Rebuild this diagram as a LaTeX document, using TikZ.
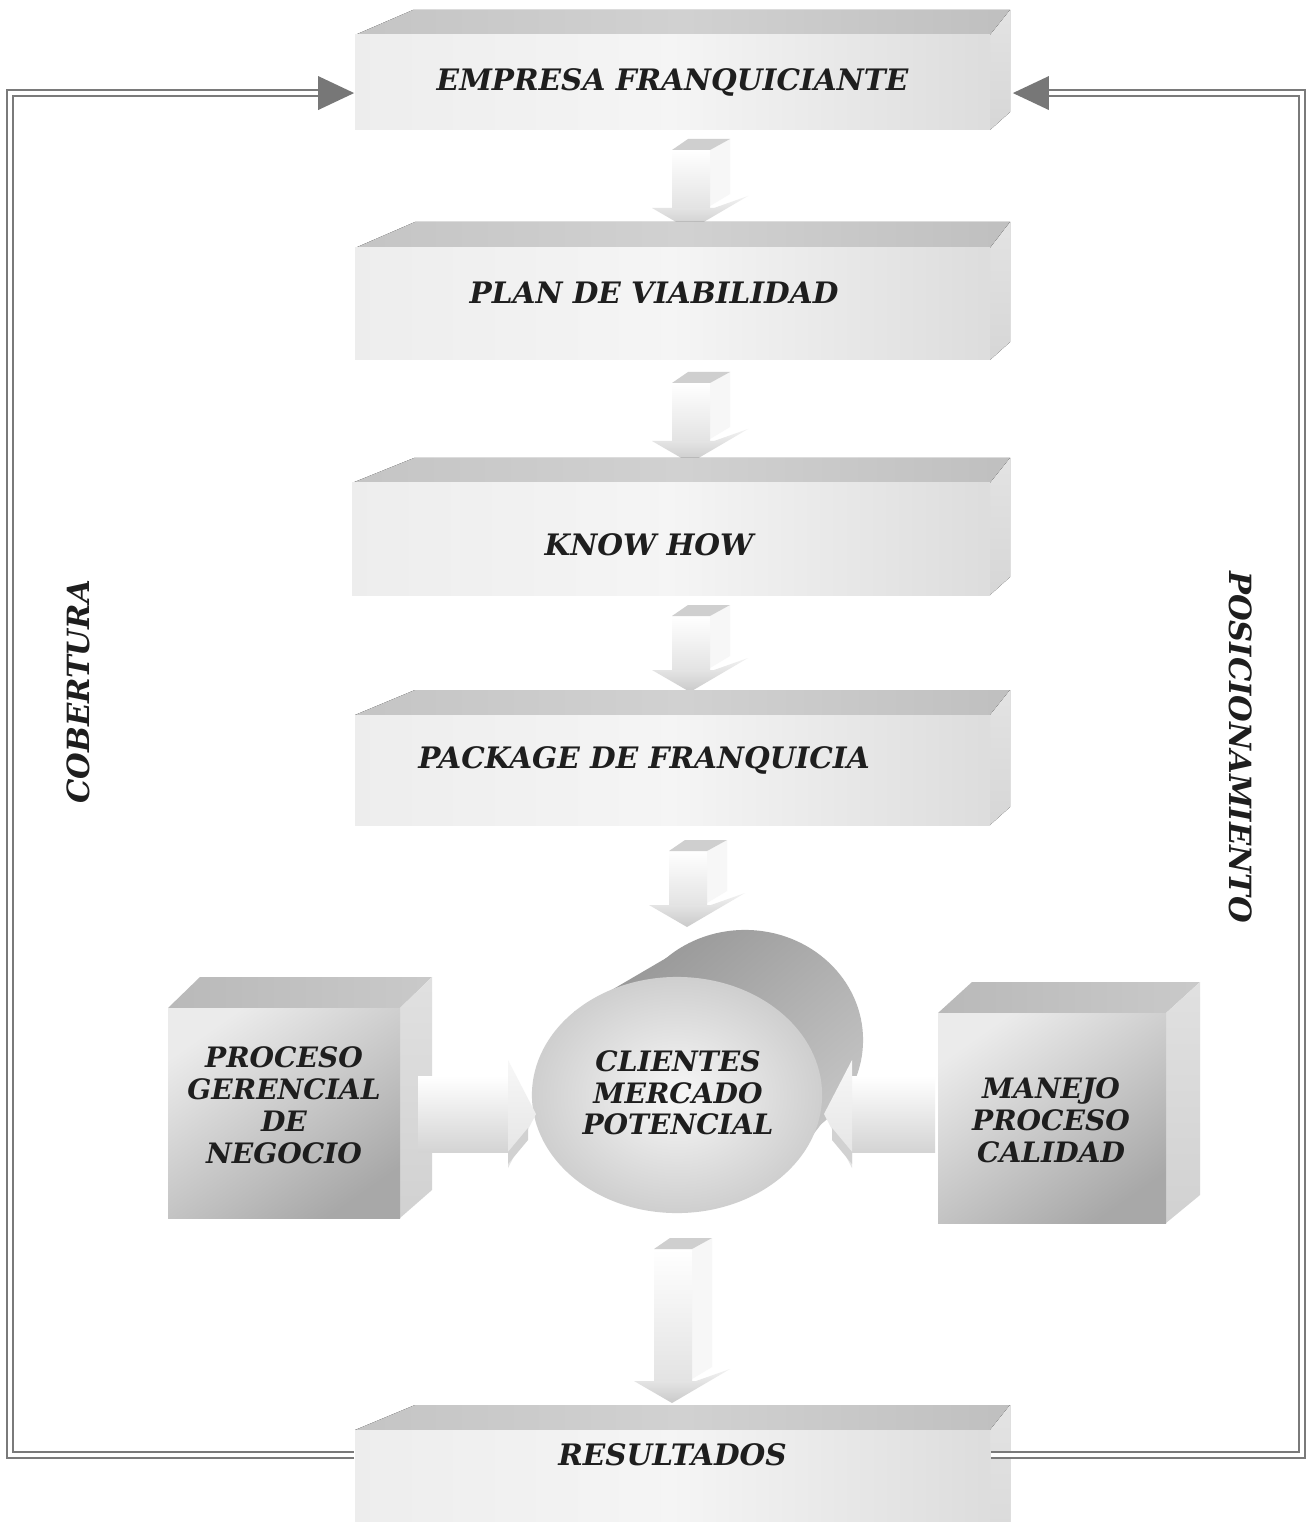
\documentclass[tikz,border=0pt]{standalone}
\usepackage{fontspec}
\setmainfont{DejaVu Serif}
\usetikzlibrary{calc}

\definecolor{ink}{HTML}{1E1E1E}
\definecolor{rule}{HTML}{7A7A7A}
\definecolor{tipgray}{HTML}{777777}

\tikzset{
  lbl/.style={font=\fontsize{8.4}{10}\selectfont\bfseries\itshape, text=ink, inner sep=0pt},
  cubelbl/.style={font=\fontsize{8}{9.1}\selectfont\bfseries\itshape, text=ink, align=center, inner sep=0pt},
  sidelbl/.style={font=\fontsize{8.7}{11}\selectfont\bfseries\itshape, text=ink, inner sep=0pt},
  dbl/.style={draw=rule, line width=0.6pt, double=white, double distance=0.9pt},
  tipfill/.style={fill=tipgray},
  frontface/.style={left color=gray!14, right color=gray!27, middle color=gray!8},
  topface/.style={left color=gray!46, right color=gray!50, middle color=gray!36},
  sideface/.style={top color=gray!22, bottom color=gray!32},
  cubefront/.style={top color=gray!16, bottom color=gray!68, shading angle=35},
  cubetop/.style={left color=gray!55, right color=gray!42},
  cubeside/.style={top color=gray!24, bottom color=gray!36},
  drumback/.style={top color=gray!88, bottom color=gray!40, shading angle=40},
}

% long slab: #1 x1, #2 x2 (front face), #3 far edge of top face, #4 front top, #5 front bottom, #6 left slant
\newcommand\slab[6]{%
  \fill[topface] (#1,#4) -- (#1+#6,#3) -- (#2+20,#3) -- (#2,#4) -- cycle;
  \fill[sideface] (#2,#4) -- (#2+20,#3) -- (#2+20,#5-18) -- (#2,#5) -- cycle;
  \shade[frontface] (#1,#4) rectangle (#2,#5);
}

% cube: #1 x1, #2 x2, #3 far edge of top face, #4 front top, #5 front bottom, #6 depth
\newcommand\cube[6]{%
  \shade[cubetop] (#1,#4) -- (#1+#6,#3) -- (#2+#6,#3) -- (#2,#4) -- cycle;
  \shade[cubeside] (#2,#4) -- (#2+#6,#3) -- (#2+#6,#5-28) -- (#2,#5) -- cycle;
  \shade[cubefront] (#1,#4) rectangle (#2,#5);
}

% downward block arrow: #1 centre x, #2 top, #3 tip
\newcommand\flowdown[3]{%
  \fill[gray!6] (#1+22,#2+11) -- (#1+42,#2) -- (#1+42,#3-36) -- (#1+22,#3-24) -- cycle;
  \shade[top color=white, bottom color=gray!22] (#1-16,#2+11) rectangle (#1+22,#3-22);
  \fill[gray!38] (#1-16,#2+11) -- (#1,#2) -- (#1+42,#2) -- (#1+22,#2+11) -- cycle;
  \shade[top color=gray!10, bottom color=gray!42] (#1-36,#3-22) -- (#1+26,#3-22) -- (#1+60,#3-34) -- (#1+2,#3) -- cycle;
}

% horizontal block arrow: #1 tail x, #2 tip x, #3 mid y, #4 direction (+1 right, -1 left)
\newcommand\flowside[4]{%
  \shade[top color=white, bottom color=gray!34] (#1,#3-36) rectangle (#2-#4*28,#3+40);
  \shade[top color=gray!6, bottom color=gray!22] (#2-#4*28,#3-52) -- (#2,#3+2) -- (#2-#4*28,#3+56) -- cycle;
  \fill[gray!36] (#2-#4*28,#3+40) -- (#2-#4*8,#3+16) -- (#2-#4*8,#3+28) -- (#2-#4*28,#3+52) -- cycle;
}

\begin{document}
\begin{tikzpicture}[x=0.01cm, y=-0.01cm]
\useasboundingbox (0,0) rectangle (1310,1522);
\clip (0,0) rectangle (1310,1522);
\fill[white] (0,0) rectangle (1310,1522);

% ---- flow of slabs ----
\slab{355}{990}{10}{35}{130}{58}
\node[lbl, minimum width=6.35cm] (empresa) at (672.5,82) {EMPRESA FRANQUICIANTE};

\flowdown{688}{139}{230}
\slab{355}{990}{222}{248}{360}{60}
\node[lbl] (plan) at (654,293) {PLAN DE VIABILIDAD};

\flowdown{688}{372}{463}
\slab{352}{990}{458}{483}{595}{62}
\node[lbl] (knowhow) at (649,545) {KNOW HOW};

\flowdown{688}{605}{692}
\slab{355}{990}{690}{715}{825}{60}
\node[lbl] (package) at (644,760) {PACKAGE DE FRANQUICIA};

\flowdown{685}{840}{927}

% ---- market cylinder ----
\begin{scope}
  \clip (745,1040) ellipse [x radius=1.18cm, y radius=1.10cm];
  \shade[drumback] (520,900) rectangle (880,1220);
\end{scope}
\begin{scope}
  \clip (574,1012) -- (668,957) -- (822,1123) -- (780,1178) -- cycle;
  \shade[drumback] (520,900) rectangle (880,1220);
\end{scope}
\shade[inner color=gray!6, outer color=gray!38] (677,1095) ellipse [x radius=1.45cm, y radius=1.18cm];
\node[cubelbl, font=\fontsize{8}{9}\selectfont\bfseries\itshape] (clientes) at (678,1093) {CLIENTES\\MERCADO\\POTENCIAL};

% ---- side processes ----
\cube{168}{400}{977}{1008}{1218}{32}
\node[cubelbl] (gerencial) at (284,1105) {PROCESO\\GERENCIAL\\DE\\NEGOCIO};
\cube{938}{1166}{982}{1013}{1223}{34}
\node[cubelbl] (calidad) at (1051,1120) {MANEJO\\PROCESO\\CALIDAD};

\flowside{418}{536}{1112}{1}
\flowside{935}{824}{1112}{-1}

\flowdown{670}{1238}{1403}

% ---- results ----
\slab{355}{990}{1405}{1430}{1600}{60}
\node[lbl, minimum width=6.35cm] (resultados) at (672.5,1455) {RESULTADOS};

% ---- feedback loops ----
\coordinate (leftrail) at (10,0);
\coordinate (rightrail) at (1302,0);
\coordinate (lefttip) at ($(empresa.base west)+(0,3)$);
\coordinate (righttip) at ($(empresa.base east)+(22,3)$);

\draw[dbl] (resultados.west) -- (resultados.west -| leftrail) -- (lefttip -| leftrail) -- ($(lefttip)+(-34,0)$);
\fill[tipfill] (lefttip) -- ++(-36,-17) -- ++(0,34) -- cycle;

\draw[dbl] (resultados.east) -- (resultados.east -| rightrail) -- (righttip -| rightrail) -- ($(righttip)+(34,0)$);
\fill[tipfill] (righttip) -- ++(36,-17) -- ++(0,34) -- cycle;

\node[sidelbl, rotate=90] (cobertura) at (78,692) {COBERTURA};
\node[sidelbl, rotate=-90] (posicionamiento) at (1241,747) {POSICIONAMIENTO};
\end{tikzpicture}
\end{document}
